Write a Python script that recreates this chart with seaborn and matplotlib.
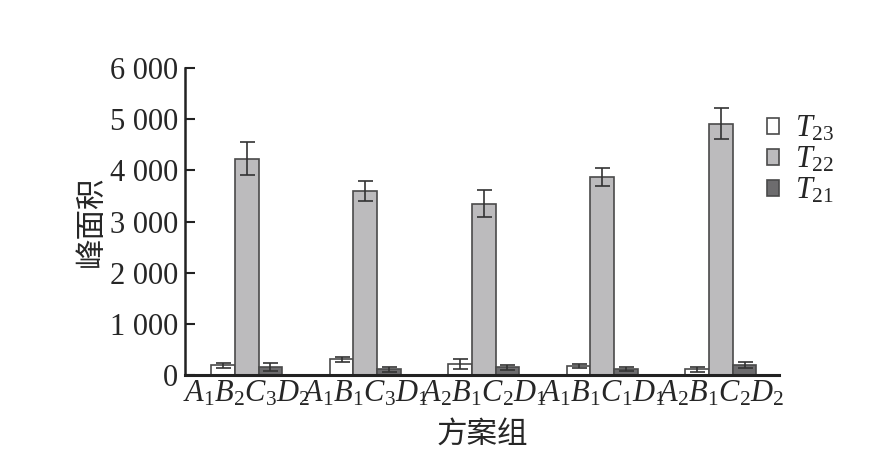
import pandas as pd
import matplotlib
matplotlib.use('Agg')
import matplotlib.pyplot as plt
import seaborn as sns

# ---- data ----
groups = ['$A_1B_2C_3D_2$', '$A_1B_1C_3D_1$', '$A_2B_1C_2D_1$',
          '$A_1B_1C_1D_1$', '$A_2B_1C_2D_2$']
series = ['$T_{23}$', '$T_{22}$', '$T_{21}$']

t23_mean = [190, 310, 215, 175, 110]
t22_mean = [4230, 3600, 3350, 3870, 4910]
t21_mean = [150, 110, 150, 110, 190]

t23_err = [50, 50, 100, 40, 50]
t22_err = [330, 190, 265, 185, 305]
t21_err = [80, 55, 50, 40, 60]

y_ticks = [0, 1000, 2000, 3000, 4000, 5000, 6000]
y_ticklabels = ['0', '1 000', '2 000', '3 000', '4 000', '5 000', '6 000']

colors = ['#ffffff', '#bcbbbd', '#6d6c6e']

sns.set_style('ticks')
plt.rcParams['font.family'] = ['Liberation Serif', 'Noto Sans CJK SC']
plt.rcParams['mathtext.fontset'] = 'custom'
plt.rcParams['mathtext.rm'] = 'Liberation Serif'
plt.rcParams['mathtext.it'] = 'Liberation Serif:italic'

means = [t23_mean, t22_mean, t21_mean]
errs = [t23_err, t22_err, t21_err]

df = pd.DataFrame({
    'group': groups * 3,
    'series': [s for s in series for _ in groups],
    'value': t23_mean + t22_mean + t21_mean,
})

fig = plt.figure(figsize=(8.95, 4.49), dpi=100)
ax = fig.add_axes([185 / 895, 74 / 449, 594 / 895, 307 / 449])

sns.barplot(data=df, x='group', y='value', hue='series',
            hue_order=series, order=groups, palette=colors,
            width=0.6, errorbar=None, edgecolor='#4a4a4a', linewidth=1.2,
            ax=ax)

# error bars on top of each bar
for cont, err in zip(ax.containers, errs):
    xs = [b.get_x() + b.get_width() / 2 for b in cont]
    ys = [b.get_height() for b in cont]
    ax.errorbar(xs, ys, yerr=err, fmt='none', ecolor='#333333',
                elinewidth=1.2, capsize=5.4, capthick=1.2, zorder=5)

ax.set_xlim(-0.52, 4.49)
ax.set_ylim(0, 6000)
ax.set_yticks(y_ticks)
ax.set_yticklabels(y_ticklabels)

ax.tick_params(axis='y', direction='in', length=7, width=1.5,
               labelsize=22, pad=5, color='#222222')
ax.tick_params(axis='x', length=0, labelsize=22, pad=3)

sns.despine(ax=ax)
ax.spines['left'].set_linewidth(1.8)
ax.spines['bottom'].set_linewidth(2.2)
ax.spines['left'].set_color('#222222')
ax.spines['bottom'].set_color('#222222')

ax.set_xlabel('方案组', fontsize=22, labelpad=9)
ax.set_ylabel('峰面积', fontsize=22, labelpad=2)

ax.legend(loc='upper left', bbox_to_anchor=(752 / 895, 1 - 99 / 449),
          bbox_transform=fig.transFigure, frameon=False, fontsize=22,
          handlelength=0.4, handleheight=0.4, handletextpad=0.5,
          labelspacing=0.05, borderpad=0, title=None)

fig.savefig('out.png', dpi=100)
